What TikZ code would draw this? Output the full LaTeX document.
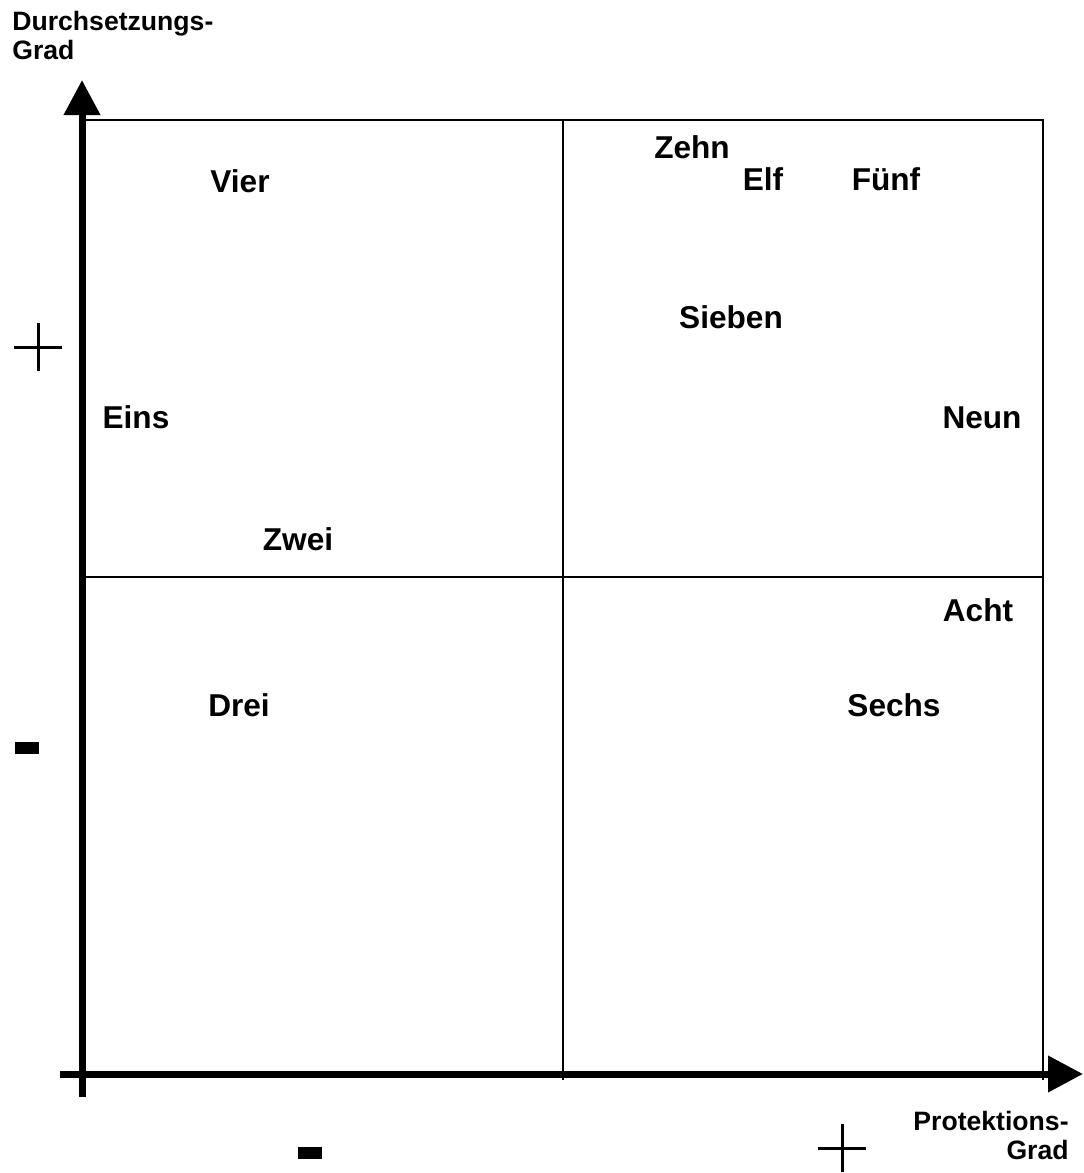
\documentclass[tikz,border=0pt]{standalone}
\usepackage{fontspec}
\setmainfont{Liberation Sans}
\usetikzlibrary{arrows.meta}

\begin{document}
\begin{tikzpicture}[x=.5pt,y=-.5pt,
 every node/.style={inner sep=0pt},
 entry/.style={anchor=base,font=\fontsize{15.8}{19}\selectfont\bfseries},
 axislabel/.style={font=\fontsize{13.3}{14.5}\selectfont\bfseries},
 axis/.style={line width=3.5pt,-{Triangle[length=17.5pt,width=17.5pt]}},
 frame/.style={line width=1pt},
 sign/.style={line width=1.5pt}]
 \path[use as bounding box] (0,0) rectangle (1083,1173);
 % quadrant frame
 \draw[frame] (82,120) -- (1043,120) -- (1043,1080);
 \draw[frame] (563,120) -- (563,1080);
 \draw[frame] (82,577) -- (1043,577);
 % axes
 \coordinate (ytop) at (82,80);
 \coordinate (ybot) at (82,1097);
 \coordinate (xleft) at (60,1074);
 \coordinate (xright) at (1083,1074);
 \draw[axis] (ybot) -- (ytop);
 \draw[axis] (xleft) -- (xright);
 \node[axislabel,align=left,anchor=north west] (ylabel) at (12,11)
      {Durchsetzungs-\\Grad};
 \node[axislabel,align=right,anchor=north east] (xlabel) at (1069,1111)
      {Protektions-\\Grad};
 % plus and minus marks
 \draw[sign] (14,347) -- (62,347) (38,323) -- (38,371);
 \fill (15,742) rectangle (39,754);
 \fill (298,1147) rectangle (322,1159);
 \draw[sign] (818,1148) -- (866,1148) (842,1124) -- (842,1172);
 % entries
 \node[entry] (vier) at (240,192) {Vier};
 \node[entry] (zehn) at (692,158) {Zehn};
 \node[entry] (elf) at (763,190) {Elf};
 \node[entry] (fuenf) at (886,190) {Fünf};
 \node[entry] (sieben) at (731,328) {Sieben};
 \node[entry] (eins) at (136,428) {Eins};
 \node[entry] (neun) at (982,428) {Neun};
 \node[entry] (zwei) at (298,550) {Zwei};
 \node[entry] (acht) at (978,621) {Acht};
 \node[entry] (drei) at (239,716) {Drei};
 \node[entry] (sechs) at (894,716) {Sechs};
\end{tikzpicture}
\end{document}
